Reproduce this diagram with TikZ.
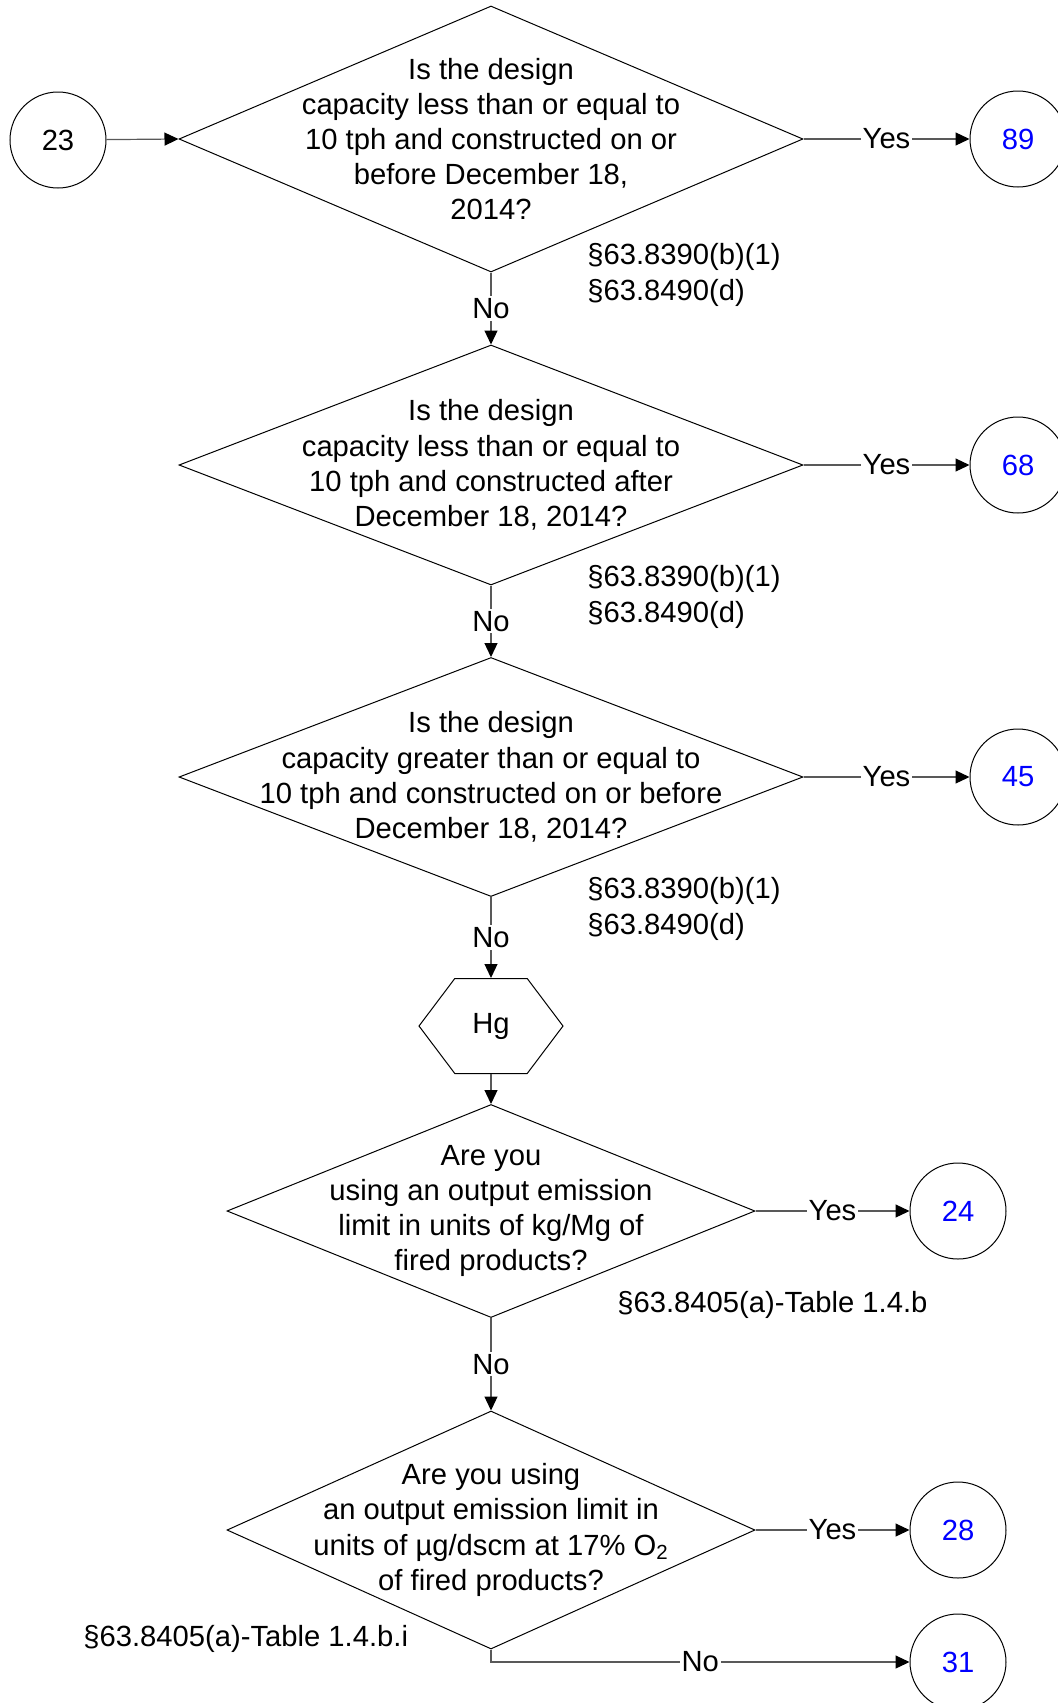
\documentclass[tikz,border=0pt]{standalone}
\usepackage{fontspec}
\setmainfont{Liberation Sans}
\usepackage{tikz}
\usetikzlibrary{
  arrows.meta,
  positioning,
  shapes.geometric,
  shapes.symbols
}
\tikzset{
  decision/.style={draw, diamond, inner sep=-60pt, align=center, line width=0.5pt},
  connector/.style={draw, circle, minimum size=48pt, inner sep=0pt, line width=0.5pt},
  hexbox/.style={draw, signal, signal to=east and west, signal pointer angle=106,
    minimum width=72pt, minimum height=47.5pt, inner sep=0pt, line width=0.5pt},
  flow/.style={-{Triangle[length=7pt, width=6.5pt, color=black]}, draw=black!65, line width=0.6pt},
  answer/.style={fill=white, inner sep=1pt},
  citation/.style={align=left, inner sep=0pt, anchor=west},
  goto/.style={connector, text=blue}
}

\begin{document}
\begin{tikzpicture}[x=0.5pt, y=0.5pt,
    font=\fontsize{14.6}{17.6}\selectfont
]
    \useasboundingbox (0,0) rectangle (1057,-1703);

    \node[connector] (c23) at (58,-140) {23};

    \node[decision, minimum width=312pt, minimum height=133pt] (d1) at (491,-139)
        {Is the design\\capacity less than or equal to\\10 tph and constructed on or\\before December 18,\\2014?};
    \node[goto] (c89) at (1018,-139) {89};
    \node[citation] (r1) at (587,-275) {§63.8390(b)(1)\\§63.8490(d)};

    \node[decision, minimum width=312pt, minimum height=120pt] (d2) at (491,-465)
        {Is the design\\capacity less than or equal to\\10 tph and constructed after\\December 18, 2014?};
    \node[goto] (c68) at (1018,-465) {68};
    \node[citation] (r2) at (587,-597) {§63.8390(b)(1)\\§63.8490(d)};

    \node[decision, minimum width=312pt, minimum height=119.5pt] (d3) at (491,-777)
        {Is the design\\capacity greater than or equal to\\10 tph and constructed on or before\\December 18, 2014?};
    \node[goto] (c45) at (1018,-777) {45};
    \node[citation] (r3) at (587,-909) {§63.8390(b)(1)\\§63.8490(d)};

    \node[hexbox] (hg) at (491,-1026) {Hg};

    \node[decision, minimum width=264pt, minimum height=106.5pt] (d4) at (491,-1211)
        {Are you\\using an output emission\\limit in units of kg/Mg of\\fired products?};
    \node[goto] (c24) at (958,-1211) {24};
    \node[citation] (r4) at (617,-1305) {§63.8405(a)-Table 1.4.b};

    \node[decision, minimum width=264pt, minimum height=119pt] (d5) at (491,-1530)
        {Are you using\\an output emission limit in\\units of µg/dscm at 17\% O\textsubscript{2}\\of fired products?};
    \node[goto] (c28) at (958,-1530) {28};
    \node[goto] (c31) at (958,-1662) {31};
    \node[citation] (r5) at (83,-1639) {§63.8405(a)-Table 1.4.b.i};

    \draw[flow] (c23) -- (d1.west);
    \draw[flow] (d1.east) -- node[answer] {Yes} (c89);
    \draw[flow] (d1.south) -- node[answer] {No} (d2.north);
    \draw[flow] (d2.east) -- node[answer] {Yes} (c68);
    \draw[flow] (d2.south) -- node[answer] {No} (d3.north);
    \draw[flow] (d3.east) -- node[answer] {Yes} (c45);
    \draw[flow] (d3.south) -- node[answer] {No} (hg.north);
    \draw[flow] (hg.south) -- (d4.north);
    \draw[flow] (d4.east) -- node[answer] {Yes} (c24);
    \draw[flow] (d4.south) -- node[answer] {No} (d5.north);
    \draw[flow] (d5.east) -- node[answer] {Yes} (c28);
    \draw[flow] (d5.south) |- node[answer, pos=0.75] {No} (c31);

\end{tikzpicture}
\end{document}
